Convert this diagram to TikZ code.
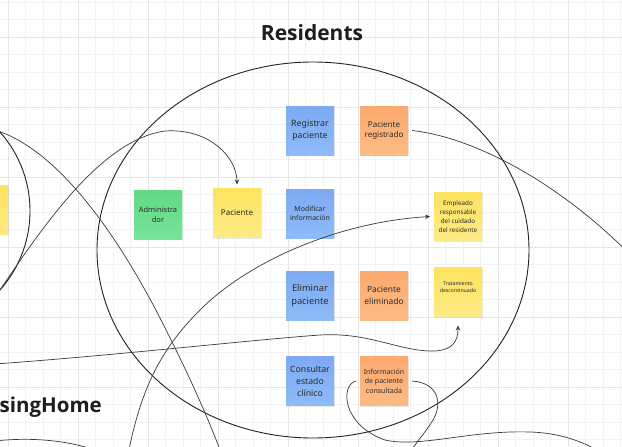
\documentclass[tikz,border=0pt]{standalone}
\usepackage{fontspec}
\setmainfont{Noto Sans}
\newfontfamily\titlefont{Open Sans}
\usetikzlibrary{arrows.meta,shadows}
\definecolor{minorgrid}{HTML}{F3F3F3}
\definecolor{majorgrid}{HTML}{E6E6E6}
\definecolor{bluetop}{HTML}{7EAAF3}
\definecolor{bluebot}{HTML}{8EBBF8}
\definecolor{orangetop}{HTML}{FCAA6E}
\definecolor{orangebot}{HTML}{FDBB84}
\definecolor{yellowtop}{HTML}{FDE35E}
\definecolor{yellowbot}{HTML}{FEEA86}
\definecolor{greentop}{HTML}{62D985}
\definecolor{greenbot}{HTML}{77E39B}
\definecolor{notetext}{HTML}{2B2B2B}
\definecolor{titlecol}{HTML}{1E1E1E}
\definecolor{conncol}{HTML}{3A3A3A}
\definecolor{ringcol}{HTML}{222222}
\newcommand\nfs[2]{\fontsize{#1}{#2}\selectfont}
\begin{document}
\begin{tikzpicture}[x=1pt,y=-1pt,
  note/.style={minimum width=48pt,minimum height=49pt,inner sep=1pt,outer sep=4pt,
    align=center,text=notetext,
    drop shadow={shadow xshift=0.6pt,shadow yshift=-1.3pt,opacity=0.16}},
  fsz/.style 2 args={font=\nfs{#1}{#2}},
  bluenote/.style={note,top color=bluetop,bottom color=bluebot},
  orangenote/.style={note,top color=orangetop,bottom color=orangebot},
  yellownote/.style={note,top color=yellowtop,bottom color=yellowbot},
  greennote/.style={note,top color=greentop,bottom color=greenbot},
  conn/.style={draw=conncol,line width=0.7pt},
  tip/.style={-{Stealth[length=5pt,width=4.5pt]}},
  ring/.style={draw=ringcol,line width=0.9pt},
  minorline/.style={draw=minorgrid,line width=0.6pt},
  majorline/.style={draw=majorgrid,line width=0.8pt}
]
\useasboundingbox (0,0) rectangle (622,447);
\clip (0,0) rectangle (622,447);
\fill[white] (0,0) rectangle (622,447);
% grid
\foreach \k in {0,...,37} { \draw[minorline] ({-9.5+17.5*\k},0) -- ++(0,447); }
\foreach \k in {0,...,26} { \draw[minorline] (0,{2+17.5*\k}) -- ++(622,0); }
\foreach \k in {0,...,8} { \draw[majorline] ({8+70*\k},0) -- ++(0,447); }
\foreach \k in {0,...,6} { \draw[majorline] (0,{37+70*\k}) -- ++(622,0); }
% titles
\node[font=\titlefont\bfseries\nfs{21}{25},text=titlecol] (title) at (312,33) {Residents};
\node[font=\titlefont\bfseries\nfs{20.5}{24},text=titlecol,anchor=west,inner sep=0pt] (nh) at (-0.5,407) {singHome};
% notes
\node[yellownote] (left) at (-16,209.5) {};
\node[bluenote,fsz={8.8}{11.7}] (reg) at (310,130.5) {Registrar\\paciente};
\node[orangenote,fsz={8}{10.7}] (regd) at (384,130.5) {Paciente\\registrado};
\node[greennote,fsz={7.5}{10.3}] (adm) at (158,214.5) {Administra\\dor};
\node[yellownote,fsz={8}{10}] (pac) at (237,213) {Paciente};
\node[bluenote,fsz={7}{9}] (mod) at (310,213.5) {Modificar\\información};
\node[yellownote,fsz={6.3}{8.8}] (emp) at (458,216.5) {Empleado\\responsable\\del cuidado\\del residente};
\node[bluenote,fsz={9.3}{13}] (eli) at (310,295.5) {Eliminar\\paciente};
\node[orangenote,fsz={8.4}{11.7}] (elid) at (384,295.5) {Paciente\\eliminado};
\node[yellownote,fsz={5.2}{7.3}] (tr) at (458,292) {Tratamiento\\descontinuado\\[3pt]};
\node[bluenote,fsz={8.7}{11.8}] (con) at (310,381) {Consultar\\estado\\clínico};
\node[orangenote,fsz={7}{9.5}] (info) at (384,381) {Información\\de paciente\\consultada};
% rings
\draw[ring] (-89,211) circle[radius=119pt];
\draw[ring] (313,250) ellipse[x radius=216pt,y radius=188pt];
% free ends
\coordinate (a0) at (-10,305);
\coordinate (b0) at (-5,130);
\coordinate (b1) at (222,455);
\coordinate (c0) at (127,460);
\coordinate (d1) at (640,265);
\coordinate (e0) at (-5,364);
\coordinate (f1) at (605,455);
\coordinate (g1) at (408,455);
\coordinate (h0) at (-5,441);
\coordinate (h1) at (100,452);
% connectors
\draw[conn,tip] (a0) .. controls (40,230) and (100,140) .. (165,131) .. controls (210,128) and (237,158) .. (pac.north);
\draw[conn] (b0) .. controls (60,150) and (120,240) .. (160,318) .. controls (185,367) and (205,410) .. (b1);
\draw[conn,tip] (c0) .. controls (140,390) and (160,350) .. (200,310) .. controls (250,260) and (340,222) .. (emp.west);
\draw[conn] (regd.east) .. controls (480,138) and (570,190) .. (d1);
\draw[conn,tip,shorten >=5pt] (e0) .. controls (120,355) and (250,340) .. (320,335) .. controls (370,332) and (400,352) .. (435,351) .. controls (452,350) and (458,342) .. (tr.south);
\draw[conn] (info.west) .. controls (340,385) and (342,425) .. (385,440) .. controls (420,448) and (470,430) .. (530,432) .. controls (565,433) and (590,445) .. (f1);
\draw[conn] (info.east) .. controls (440,383) and (442,405) .. (433,420) .. controls (425,433) and (418,440) .. (g1);
\draw[conn] (h0) .. controls (30,437) and (70,440) .. (h1);
\end{tikzpicture}
\end{document}
